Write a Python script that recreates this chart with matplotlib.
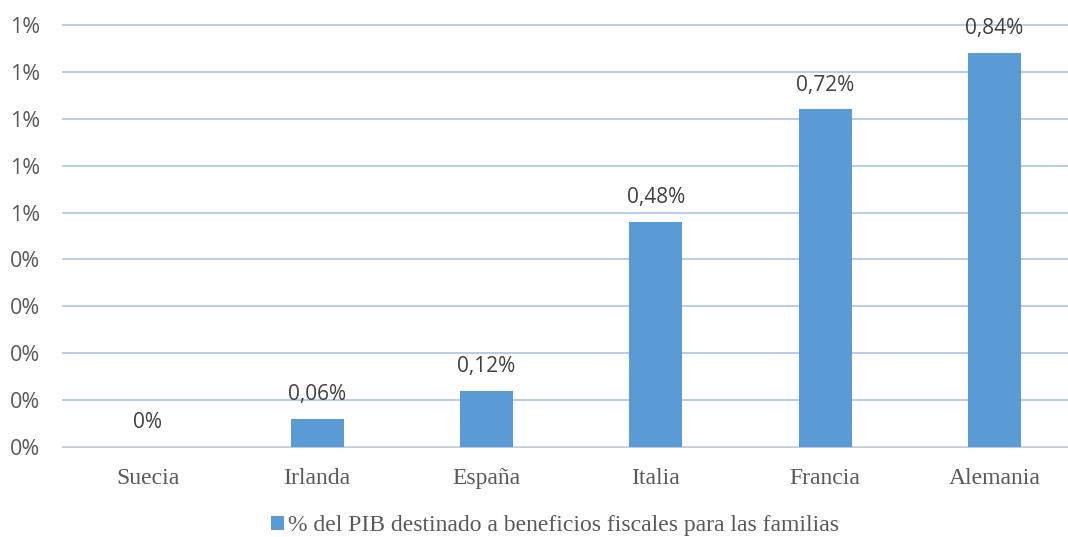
import matplotlib
matplotlib.use("Agg")
import matplotlib.pyplot as plt
from matplotlib.patches import Patch

categories = ["Suecia", "Irlanda", "España", "Italia", "Francia", "Alemania"]
values = [0.0, 0.06, 0.12, 0.48, 0.72, 0.84]
labels = ["0%", "0,06%", "0,12%", "0,48%", "0,72%", "0,84%"]
yticks = [0.0, 0.1, 0.2, 0.3, 0.4, 0.5, 0.6, 0.7, 0.8, 0.9]
ytick_labels = ["0%", "0%", "0%", "0%", "0%", "1%", "1%", "1%", "1%", "1%"]
legend_label = "% del PIB destinado a beneficios fiscales para las familias"

W, H = 1068, 537
fig = plt.figure(figsize=(W / 100, H / 100), dpi=100)
ax = fig.add_axes([63 / W, (H - 447) / H, (1068 - 63) / W, (447 - 25) / H])

bar_color = "#5b9bd5"
text_color = "#595959"
x = list(range(len(categories)))
ax.bar(x, values, width=0.313, color=bar_color, zorder=3)

ax.set_xlim(-0.5, (1068 - 147) / 169.5 - 0.0)
ax.set_ylim(0, 0.9)
ax.set_yticks(yticks)
ax.set_yticklabels(ytick_labels, fontfamily="Open Sans", fontsize=15.5, color=text_color)
ax.set_xticks(x)
ax.set_xticklabels(categories, fontfamily="Liberation Serif", fontsize=17, color=text_color)
ax.tick_params(axis="y", length=0, pad=16.5)
ax.tick_params(axis="x", length=0, pad=15)

for s in ax.spines.values():
    s.set_visible(False)
ax.grid(axis="y", color="#b4c7e7", linewidth=1.3, zorder=0)
ax.set_axisbelow(True)
ax.axhline(0, color="#d9d9d9", linewidth=1.3, zorder=2)
for gl in ax.get_ygridlines():
    gl.set_clip_on(False)

for xi, v, lab in zip(x, values, labels):
    ax.annotate(lab, (xi, v), xytext=(0, 17.5), textcoords="offset points",
                ha="center", va="center", fontfamily="Open Sans", fontsize=15,
                color="#404040")

handle = Patch(facecolor=bar_color, edgecolor="none")
fig.legend([handle], [legend_label], loc="center", bbox_to_anchor=(555 / W, 1 - 526 / H),
           frameon=False, prop={"family": "Liberation Serif", "size": 17},
           labelcolor=text_color, handlelength=0.55, handleheight=0.55, handletextpad=0.15)

fig.savefig("out.png", dpi=100)
